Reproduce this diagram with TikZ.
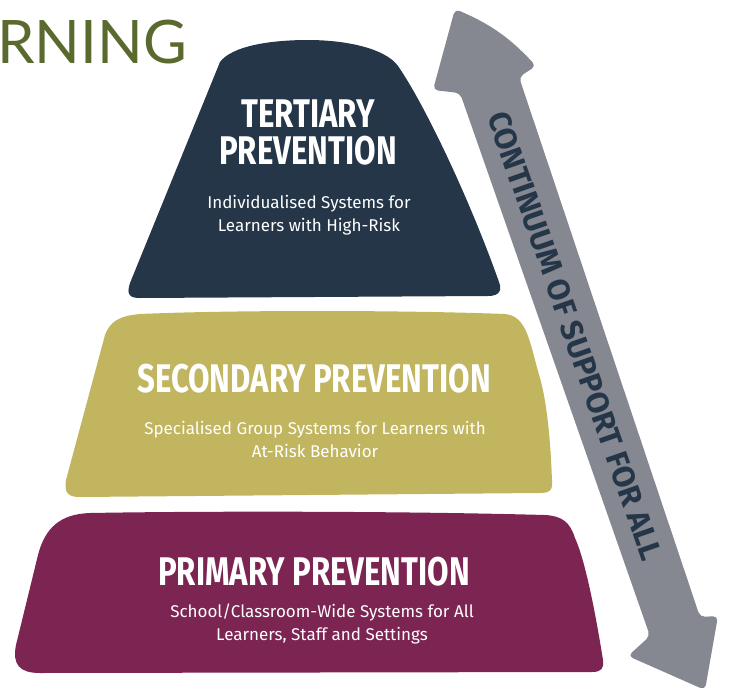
\documentclass[tikz,border=0pt]{standalone}
\usepackage{fontspec}
\setmainfont{Fira Sans}
\newfontfamily\headfont{Fira Sans}
\newfontfamily\titlefont{Lato}
\definecolor{tiernavy}{HTML}{243648}
\definecolor{tierkhaki}{HTML}{C1B55F}
\definecolor{tiermaroon}{HTML}{7C2452}
\definecolor{arrowgray}{HTML}{858791}
\definecolor{titleolive}{HTML}{5A6A2E}

\begin{document}
\begin{tikzpicture}[x=1pt,y=-1pt,
    headtext/.style={text=white,font=\headfont\bfseries\fontsize{40}{37}\selectfont,xscale=0.78,align=center},
    bodytext/.style={text=white,font=\fontsize{17}{23}\selectfont,align=center}]
      \useasboundingbox (0,0) rectangle (729,691);

      % title, cut off at the left
      \node[anchor=base west,text=titleolive,font=\titlefont\fontsize{60}{60}\selectfont,inner sep=0pt] (title) at (-3,63) {RNING};

      % tertiary tier
      \fill[tiernavy] (140,298) -- (488,296)
        .. controls (500,296) and (502,290) .. (499,282)
        .. controls (470,200) and (425,105) .. (398,66)
        .. controls (385,48) and (345,40) .. (308,40)
        .. controls (270,40) and (232,46) .. (220,62)
        -- (130,283)
        .. controls (126,295) and (130,298) .. (140,298) -- cycle;
      \node[headtext] (terthead) at (308,132) {TERTIARY\\PREVENTION};
      \node[bodytext] (tertbody) at (309,215) {Individualised Systems for\\Learners with High-Risk};

      % secondary tier
      \fill[tierkhaki] (80,497) -- (540,493)
        .. controls (550,493) and (553,490) .. (552,480)
        .. controls (550,430) and (546,400) .. (540,378)
        .. controls (530,345) and (528,316) .. (505,314)
        .. controls (400,310) and (230,310) .. (140,314)
        .. controls (118,316) and (110,322) .. (105,335)
        -- (66,480)
        .. controls (64,493) and (68,497) .. (80,497) -- cycle;
      \node[headtext] (sechead) at (314,379) {SECONDARY PREVENTION};
      \node[bodytext] (secbody) at (315,439) {Specialised Group Systems for Learners with\\At-Risk Behavior};

      % primary tier
      \fill[tiermaroon] (40,673) -- (592,672)
        .. controls (602,672) and (604,668) .. (603,660)
        .. controls (595,610) and (585,560) .. (575,538)
        .. controls (570,522) and (562,516) .. (545,515)
        .. controls (400,511) and (200,511) .. (90,513)
        .. controls (60,514) and (45,528) .. (38,555)
        -- (16,645)
        .. controls (12,665) and (20,673) .. (40,673) -- cycle;
      \node[headtext] (primhead) at (314,572) {PRIMARY PREVENTION};
      \node[bodytext] (primbody) at (322,624) {School/Classroom-Wide Systems for All\\Learners, Staff and Settings};

      % arrow on the right
      \fill[arrowgray,rounded corners=5pt] (455,9) to[bend left=12] (536,66) -- (519,77)
        -- (700,617) -- (718,616) -- (705,690) -- (628,656) -- (650,636)
        -- (460,93) -- (433,90) -- cycle;
      \node[rotate=-70.8,text=tiernavy,font=\headfont\bfseries\fontsize{31}{31}\selectfont,xscale=1.0] (arrowtext) at (575,336) {CONTINUUM OF SUPPORT FOR ALL};
\end{tikzpicture}
\end{document}
